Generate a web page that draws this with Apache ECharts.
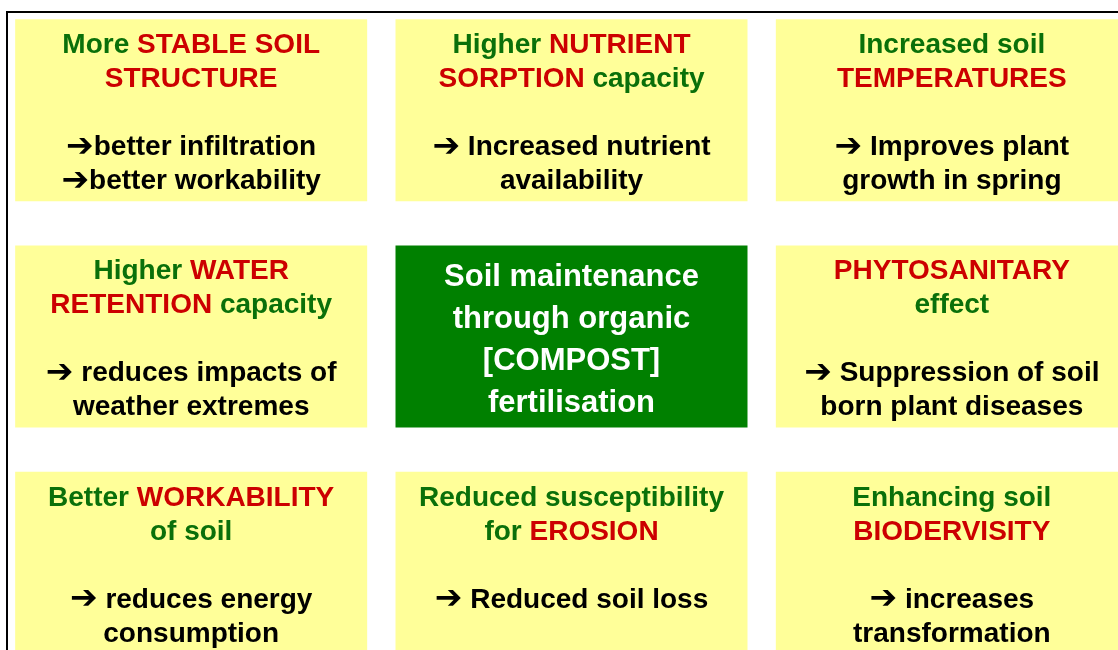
<!DOCTYPE html>
<html>
<head>
<meta charset="utf-8">
<script src="https://cdn.jsdelivr.net/npm/echarts@6/dist/echarts.min.js"></script>
<style>
  html, body { margin: 0; padding: 0; background: #fff; }
  #main { width: 1118px; height: 650px; }
</style>
</head>
<body>
<div id="main"></div>
<script>
// 3 x 3 layout: column / row of every box
const cols = ['left', 'middle', 'right'];
const rows = ['top', 'centre', 'bottom'];
const cells = [[0, 0], [1, 0], [2, 0], [0, 1], [1, 1], [2, 1], [0, 2], [1, 2], [2, 2]];

// headline of each box ({g|..} green, {r|..} red)
const titles = [
    '{g|More }{r|STABLE SOIL}\n{r|STRUCTURE}',
    '{g|Higher }{r|NUTRIENT}\n{r|SORPTION}{g| capacity}',
    '{g|Increased soil}\n{r|TEMPERATURES}',
    '{g|Higher }{r|WATER}\n{r|RETENTION}{g| capacity}',
    'Soil maintenance\nthrough organic\n[COMPOST]\nfertilisation',
    '{r|PHYTOSANITARY}\n{g|effect}',
    '{g|Better }{r|WORKABILITY}\n{g|of soil}',
    '{g|Reduced susceptibility}\n{g|for }{r|EROSION}',
    '{g|Enhancing soil}\n{r|BIODERVISITY}'
];

// consequence lines below the headline
const effects = [
    ['➔better infiltration', '➔better workability'],
    ['➔ Increased nutrient', 'availability'],
    ['➔ Improves plant', 'growth in spring'],
    ['➔ reduces impacts of', 'weather extremes'],
    [],
    ['➔ Suppression of soil', 'born plant diseases'],
    ['➔ reduces energy', 'consumption'],
    ['➔ Reduced soil loss'],
    ['➔ increases', 'transformation']
];

const CORE = 4;
const FONT = '"Liberation Sans", Arial, Helvetica, sans-serif';

var chart = echarts.init(document.getElementById('main'));

function effectLine(l) {
    if (l.charAt(0) === '➔') return '{a|➔}{k|' + l.slice(1) + '}';
    return '{k|' + l + '}';
}

function boxText(i) {
    if (i === CORE) return titles[i];
    let txt = titles[i];
    if (effects[i].length) {
        txt += '\n\n' + effects[i].map(effectLine).join('\n');
    }
    return txt;
}

function renderItem(params, api) {
    const i = params.dataIndex;
    const c = api.coord([api.value(0), api.value(1)]);
    const w = 352, h = 182;
    const core = i === CORE;
    return {
        type: 'group',
        children: [
            {
                type: 'rect',
                shape: { x: c[0] - w / 2, y: c[1] - h / 2, width: w, height: h },
                style: { fill: core ? '#008000' : '#ffff99' }
            },
            {
                type: 'text',
                x: c[0],
                y: core ? c[1] + 4 : c[1] - h / 2 + 9,
                style: {
                    text: boxText(i),
                    align: 'center',
                    verticalAlign: core ? 'middle' : 'top',
                    fontFamily: FONT,
                    fontWeight: 'bold',
                    fontSize: core ? 31 : 28,
                    lineHeight: core ? 42 : 34,
                    fill: core ? '#ffffff' : '#000000',
                    rich: {
                        g: { fill: '#0a700a', fontFamily: FONT, fontWeight: 'bold', fontSize: 28, lineHeight: 34 },
                        r: { fill: '#cc0000', fontFamily: FONT, fontWeight: 'bold', fontSize: 28, lineHeight: 34 },
                        k: { fill: '#000000', fontFamily: FONT, fontWeight: 'bold', fontSize: 28, lineHeight: 34 },
                        a: { fill: '#000000', fontFamily: '"DejaVu Sans", sans-serif', fontWeight: 'bold', fontSize: 33, lineHeight: 34 }
                    }
                }
            }
        ]
    };
}

option = {
    backgroundColor: '#ffffff',
    animation: false,
    grid: { left: 1, top: -3, width: 1141, height: 679, outerBoundsMode: 'none', containLabel: false },
    xAxis: { type: 'category', data: cols, show: false },
    yAxis: { type: 'category', data: rows, inverse: true, show: false },
    graphic: [{
        type: 'rect',
        z: -1,
        shape: { x: 7, y: 12, width: 1200, height: 700 },
        style: { fill: 'none', stroke: '#000', lineWidth: 2 }
    }],
    series: [{
        type: 'custom',
        renderItem: renderItem,
        clip: false,
        data: cells
    }]
};

chart.setOption(option);
</script>
</body>
</html>
